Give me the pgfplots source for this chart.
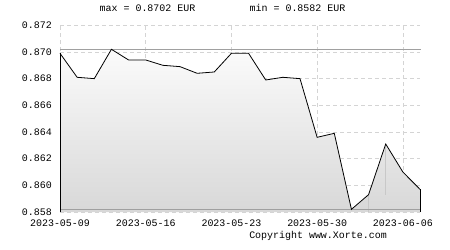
\documentclass[border=0pt]{standalone}
\usepackage{pgfplots}
\pgfplotsset{compat=1.18}
\usepackage{fontspec}
\setmainfont{Liberation Mono}
\definecolor{gridc}{HTML}{D4D4D4}
\definecolor{mmline}{HTML}{A0A0A0}
\definecolor{faint}{HTML}{C8C8C8}
\definecolor{filltop}{HTML}{FBFBFB}
\definecolor{fillbot}{HTML}{D8D8D8}
\pgfplotstableread{
idx val
0 0.8699
1 0.8681
2 0.8680
3 0.8702
4 0.8694
5 0.8694
6 0.8690
7 0.8689
8 0.8684
9 0.8685
10 0.8699
11 0.8699
12 0.8679
13 0.8681
14 0.8680
15 0.8636
16 0.8639
17 0.8582
18 0.8593
19 0.8631
20 0.8610
21 0.8597
}\rates
\begin{document}
\begin{tikzpicture}
\path[use as bounding box] (0,0) rectangle (450bp,250bp);
\begin{axis}[
  at={(60bp,38bp)}, anchor=south west,
  scale only axis, width=360bp, height=186.7bp,
  xmin=0, xmax=21, ymin=0.858, ymax=0.872,
  axis line style={draw=none},
  grid=major,
  major grid style={gridc, dash pattern=on 4bp off 3bp, line width=0.6bp},
  xtick={0,5,10,15,20},
  xticklabels={2023-05-09,2023-05-16,2023-05-23,2023-05-30,2023-06-06},
  ytick={0.858,0.860,0.862,0.864,0.866,0.868,0.870,0.872},
  yticklabels={0.858,0.860,0.862,0.864,0.866,0.868,0.870,0.872},
  scaled y ticks=false,
  tick align=inside,
  xtick pos=bottom, ytick pos=left,
  major tick length=6bp,
  xtick style={black, line width=0.8bp},
  ytick style={draw=none},
  ticklabel style={font=\fontsize{10}{12}\selectfont, inner sep=0pt},
  /pgf/number format/assume math mode=true,
  xticklabel shift=8bp,
  yticklabel shift=8bp,
  clip=false,
]
\addplot[draw=none, top color=filltop, bottom color=fillbot] table[x=idx,y=val]{\rates} \closedcycle;
\addplot[faint, line width=0.5bp] coordinates {(18,0.858) (18,0.8593)};
\addplot[faint, line width=0.5bp] coordinates {(19,0.8593) (19,0.8631)};
\addplot[mmline, line width=0.9bp] coordinates {(0,0.8702) (21.05,0.8702)};
\addplot[mmline, line width=0.9bp] coordinates {(0,0.8582) (21.05,0.8582)};
\addplot[black, line width=0.8bp, mark=none] coordinates {(0,0.858) (0,0.8699)};
\addplot[black, line width=0.8bp, mark=none] coordinates {(21,0.858) (21,0.8597)};
\addplot[black, line width=0.8bp, mark=none] table[x=idx,y=val]{\rates};
\end{axis}
\node[font=\fontsize{10}{12}\selectfont] at (147.5bp,242bp) {max = 0.8702 EUR};
\node[font=\fontsize{10}{12}\selectfont] at (297.5bp,242bp) {min = 0.8582 EUR};
\node[font=\fontsize{10}{12}\selectfont] at (318bp,14bp) {Copyright www.Xorte.com};
\end{tikzpicture}
\end{document}
